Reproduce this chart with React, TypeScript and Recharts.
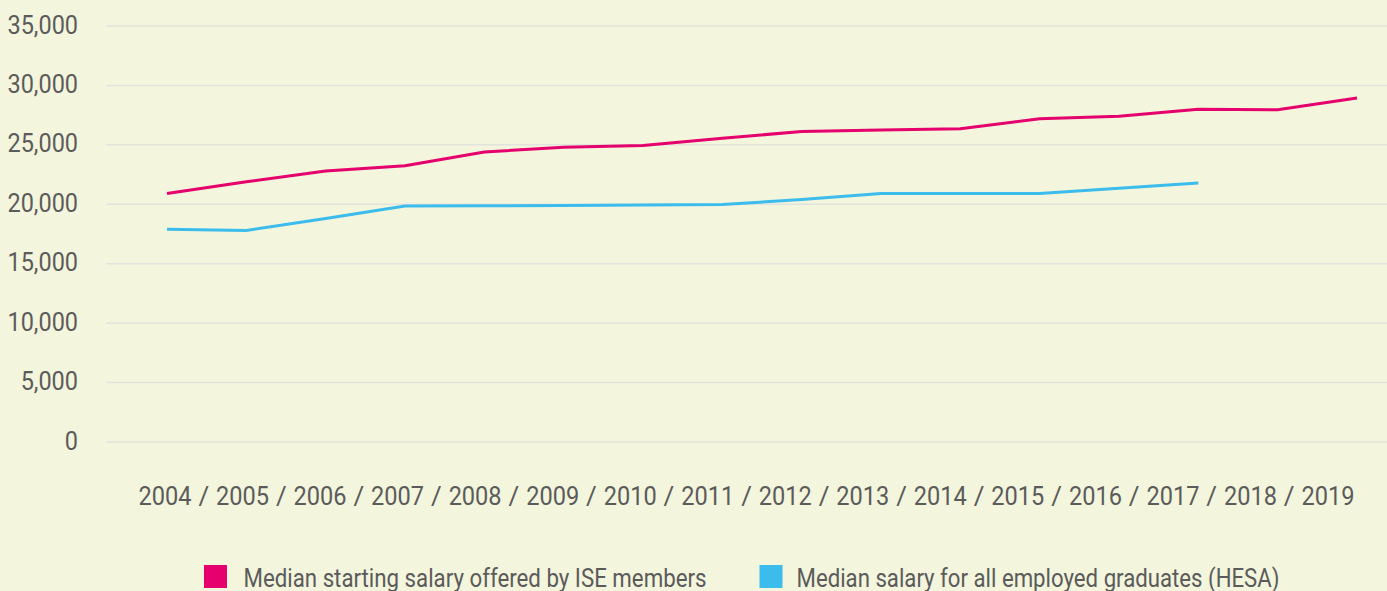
import React from "react";
import { LineChart, Line, XAxis, YAxis, CartesianGrid, Legend } from "recharts";

const years = ["2004","2005","2006","2007","2008","2009","2010","2011","2012","2013","2014","2015","2016","2017","2018","2019"];
const iseSalary = [20900,21900,22800,23250,24400,24800,24950,25550,26130,26250,26360,27200,27400,28000,27950,28950];
const hesaSalary: (number | null)[] = [17900,17800,18800,19850,19870,19900,19950,19980,20400,20900,20900,20900,21350,21800,null,null];
const yTicks = [0,5000,10000,15000,20000,25000,30000,35000];
const seriesNames = ["Median starting salary offered by ISE members","Median salary for all employed graduates (HESA)"];
const seriesColors = ["#e5006d","#3cbcec"];

const data = years.map((y, i) => ({ year: y, ise: iseSalary[i], hesa: hesaSalary[i] }));

const TEXT = "#5b5b5b";
const FONT = "Roboto, 'Noto Sans', sans-serif";

const fmt = (v: number) => v.toLocaleString("en-US");

const YTick = (props: any) => {
  const { x, y, payload } = props;
  return (
    <g transform={`translate(${x},${y})`}>
      <text x={0} y={0} dy={7.5} textAnchor="end" fill={TEXT} fontSize={25.5} fontFamily={FONT} transform="scale(0.92,1)">
        {fmt(payload.value)}
      </text>
    </g>
  );
};

const XLabel = (props: any) => {
  const { viewBox } = props;
  const cx = viewBox.x + viewBox.width / 2;
  const total = 1216;
  const yearW = 53;
  const step = (total - yearW) / (years.length - 1);
  const start = cx - total / 2;
  const baseY = viewBox.y + 63;
  return (
    <g>
      {years.map((yr, i) => {
        const x0 = start + i * step;
        return (
          <g key={yr}>
            <text x={x0} y={baseY} fill={TEXT} fontSize={26} fontFamily={FONT} textLength={yearW} lengthAdjust="spacingAndGlyphs">
              {yr}
            </text>
            {i < years.length - 1 && (
              <text x={x0 + yearW + (step - yearW) / 2} y={baseY} textAnchor="middle" fill={TEXT} fontSize={26} fontFamily={FONT}>
                /
              </text>
            )}
          </g>
        );
      })}
    </g>
  );
};

const LegendContent = (props: any) => {
  const payload = [...(props.payload || [])].sort(
    (a: any, b: any) => seriesNames.indexOf(a.value) - seriesNames.indexOf(b.value)
  );
  const layout = [
    { sq: 204, tx: 243.5, len: 463 },
    { sq: 759.5, tx: 796.5, len: 483 },
  ];
  return (
    <div style={{ height: 40, width: 1387 }}>
      <svg width={1387} height={40} style={{ display: "block" }}>
        {payload.map((p: any, i: number) => {
          const l = layout[i] || layout[0];
          return (
            <g key={i}>
              <rect x={l.sq} y={14} width={23} height={23} fill={p.color} />
              <text x={l.tx} y={35.5} fill={TEXT} fontSize={26} fontFamily={FONT} textLength={l.len} lengthAdjust="spacingAndGlyphs">
                {p.value}
              </text>
            </g>
          );
        })}
      </svg>
    </div>
  );
};

export default function App() {
  return (
    <div style={{ position: "absolute", left: 0, top: 0, width: 1387, height: 591, background: "#f3f5dc" }}>
      <LineChart width={1387} height={591} data={data} margin={{ top: 26, right: 0, left: 0, bottom: 0 }}>
        <CartesianGrid vertical={false} stroke="#e3e3dd" strokeWidth={1.5} />
        <XAxis
          dataKey="year"
          tick={false}
          tickLine={false}
          axisLine={false}
          height={109}
          padding={{ left: 61, right: 30 }}
          label={<XLabel />}
        />
        <YAxis
          width={106}
          domain={[0, 35000]}
          ticks={yTicks}
          axisLine={false}
          tickLine={false}
          tickSize={0}
          tickMargin={28}
          tick={<YTick />}
          interval={0}
        />
        <Legend verticalAlign="bottom" content={<LegendContent />} />
        <Line type="linear" dataKey="ise" name={seriesNames[0]} stroke={seriesColors[0]} strokeWidth={3} dot={false} isAnimationActive={false} />
        <Line type="linear" dataKey="hesa" name={seriesNames[1]} stroke={seriesColors[1]} strokeWidth={3} dot={false} isAnimationActive={false} />
      </LineChart>
    </div>
  );
}
